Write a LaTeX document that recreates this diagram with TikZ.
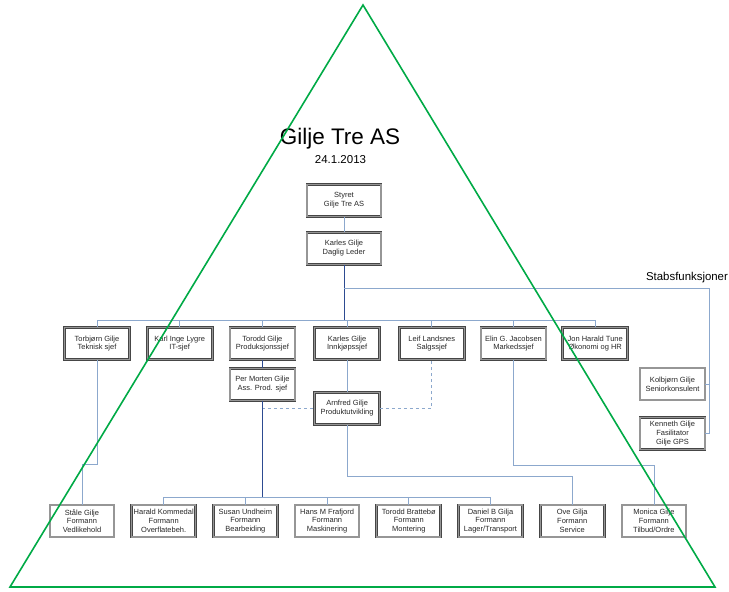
\documentclass[tikz,border=0pt]{standalone}
\usepackage{fontspec}
\setmainfont{Liberation Sans}
\definecolor{linecol}{RGB}{140, 168, 205}
\definecolor{trunkcol}{RGB}{45, 75, 145}
\definecolor{frame}{RGB}{70, 70, 70}
\definecolor{band}{RGB}{150, 150, 150}
\definecolor{tgreen}{RGB}{0, 170, 70}
\definecolor{textgray}{RGB}{40, 40, 40}
\usetikzlibrary{positioning}
\newcommand{\orgfont}{\fontsize{7.5}{8.7}\selectfont}
\tikzset{
    orgbox/.style={
        rectangle, draw=frame, double=band, double distance=1.3pt,
        line width=0.7pt, fill=white, text=textgray,
        minimum width=64pt, minimum height=32pt, inner sep=1pt,
        font=\orgfont, align=center
    },
    wide/.style={minimum width=74pt},
    line/.style={color=linecol, line width=0.8pt},
    trunk/.style={color=trunkcol, line width=1pt},
    dline/.style={color=linecol, line width=0.8pt, dashed},
    tri/.style={color=tgreen, line width=1.6pt, line join=miter}
}
\begin{document}
\begin{tikzpicture}[x=1pt, y=-1pt]
    \useasboundingbox (0,0) rectangle (729,592);

    % Title
    \node[anchor=base, font=\fontsize{22.5}{27}\selectfont] (title) at (340,144) {Gilje Tre AS};
    \node[anchor=base, font=\fontsize{11.5}{14}\selectfont] (date) at (340.5,163) {24.1.2013};

    % Top
    \node[orgbox, wide] (styret) at (344,200.5) {Styret\\Gilje Tre AS};
    \node[orgbox, wide, below=15pt of styret] (leder) {Karles Gilje\\Daglig Leder};

    % Department heads
    \node[orgbox, minimum width=65pt] (tek) at (97,343.5) {Torbjørn Gilje\\Teknisk sjef};
    \node[orgbox, minimum width=65pt, right=17pt of tek] (it) {Karl Inge Lygre\\IT-sjef};
    \node[orgbox, minimum width=65pt, right=17pt of it] (prod) {Torodd Gilje\\Produksjonssjef};
    \node[orgbox, minimum width=65pt, right=19pt of prod] (innk) {Karles Gilje\\Innkjøpssjef};
    \node[orgbox, minimum width=65pt, right=19pt of innk] (salg) {Leif Landsnes\\Salgssjef};
    \node[orgbox, minimum width=65pt, right=16pt of salg] (mark) {Elin G. Jacobsen\\Markedssjef};
    \node[orgbox, minimum width=65pt, right=16pt of mark] (oko) {Jon Harald Tune\\Økonomi og HR};

    \node[orgbox, minimum width=65pt, below=8pt of prod] (ass) {Per Morten Gilje\\Ass. Prod. sjef};
    \node[orgbox, minimum width=65pt, below=32pt of innk] (utv) {Arnfred Gilje\\Produktutvikling};

    % Staff functions
    \node[anchor=base, font=\fontsize{11.4}{14}\selectfont] (stablabel) at (687,280) {Stabsfunksjoner};
    \node[orgbox, minimum width=65pt] (kons) at (672.5,384) {Kolbjørn Gilje\\Seniorkonsulent};
    \node[orgbox, minimum width=65pt, below=17pt of kons] (fas) {Kenneth Gilje\\Fasilitator\\Gilje GPS};

    % Foremen
    \node[orgbox] (vedl) at (82,521) {Ståle Gilje\\Formann\\Vedlikehold};
    \node[orgbox, right=17pt of vedl] (overf) {Harald Kommedal\\Formann\\Overflatebeh.};
    \node[orgbox, right=17pt of overf] (bearb) {Susan Undheim\\Formann\\Bearbeiding};
    \node[orgbox, right=17pt of bearb] (mask) {Hans M Frafjord\\Formann\\Maskinering};
    \node[orgbox, right=17pt of mask] (mont) {Torodd Brattebø\\Formann\\Montering};
    \node[orgbox, right=17pt of mont] (lager) {Daniel B Gilja\\Formann\\Lager/Transport};
    \node[orgbox, right=17pt of lager] (serv) {Ove Gilja\\Formann\\Service};
    \node[orgbox, right=17pt of serv] (tilbud) {Monica Gilje\\Formann\\Tilbud/Ordre};

    % Bus levels
    \coordinate (bus) at (0,320);
    \coordinate (stab) at (709,288);
    \coordinate (lowbus) at (0,497);
    \coordinate (jogA) at (0,464);
    \coordinate (jogB) at (0,476);
    \coordinate (jogC) at (0,465);

    \draw[line] (styret) -- (leder);
    \draw[trunk] (leder.south) -- (leder.south |- bus);
    \draw[line] (tek.north |- bus) -- (oko.north |- bus);
    \foreach \n in {tek, it, prod, innk, salg, mark, oko}
        \draw[line] (\n.north) -- (\n.north |- bus);

    \draw[line] (leder.south |- stab) -- (stab) -- (fas.east -| stab);
    \draw[line] (kons.east) -- (kons.east -| stab);
    \draw[line] (fas.east) -- (fas.east -| stab);

    \draw[trunk] (prod) -- (ass);
    \draw[line] (innk) -- (utv);
    \draw[dline] (ass.south |- utv.west) -- (utv.west);
    \draw[dline] (utv.east) -| (salg.south);

    \draw[trunk] (ass.south) -- (ass.south |- lowbus);
    \draw[line] (overf.north |- lowbus) -- (lager.north |- lowbus);
    \foreach \n in {overf, bearb, mask, mont, lager}
        \draw[line] (\n.north) -- (\n.north |- lowbus);

    \draw[line] (tek.south) -- (tek.south |- jogA) -| (vedl.north);
    \draw[line] (utv.south) -- (utv.south |- jogB) -| (serv.north);
    \draw[line] (mark.south) -- (mark.south |- jogC) -| (tilbud.north);

    % Pyramid
    \coordinate (apex) at (363,5);
    \coordinate (right) at (715,587);
    \coordinate (left) at (10,587);
    \draw[tri] (apex) -- (right) -- (left) -- cycle;

\end{tikzpicture}
\end{document}
